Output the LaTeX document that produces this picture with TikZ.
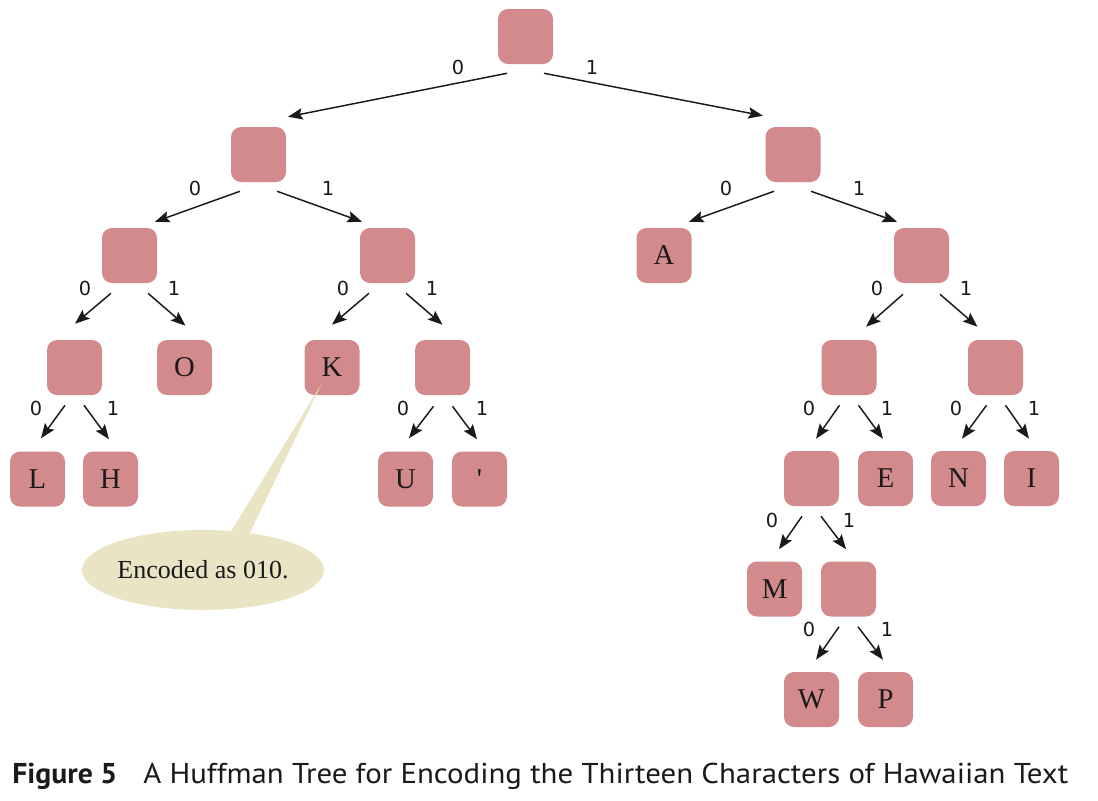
\documentclass[tikz,border=0pt]{standalone}
\usepackage{graphicx}
\usepackage{fontspec}
\setmainfont{Liberation Serif}
\newfontfamily\boxfont[Ligatures=TeXOff]{Liberation Serif}
\newfontfamily\lblfont{DejaVu Sans}
\newfontfamily\capfont{PT Sans}
\usetikzlibrary{arrows.meta,calc,shapes.geometric}
\definecolor{boxred}{HTML}{D38A8C}
\definecolor{calloutfill}{HTML}{E8E4C4}
\definecolor{ink}{HTML}{1A1A1A}
\begin{document}
\begin{tikzpicture}[x=0.75pt,y=-0.75pt,
  hbox/.style={fill=boxred, rounded corners=7.5pt, minimum width=41.25pt, minimum height=41.25pt,
    inner sep=0pt, font=\boxfont\fontsize{21.5}{21}\selectfont, text=ink, text height=14pt, text depth=0pt},
  lbl/.style={font=\lblfont\fontsize{14.5}{15}\selectfont, text=ink, inner sep=0pt},
  arr/.style={-{Stealth[length=11pt,width=8.5pt,inset=2pt]}, line width=1.1pt, draw=ink},
]
\useasboundingbox (0,0) rectangle (1098,800);

% nodes
\node[hbox] (root) at (525.5,36.5) {};
\node[hbox] (n0) at (258.5,154.5) {};
\node[hbox] (n1) at (793,154.5) {};
\node[hbox] (n00) at (129.5,255.5) {};
\node[hbox] (n01) at (387.5,255.5) {};
\node[hbox] (A) at (664,255.5) {A};
\node[hbox] (n11) at (921.5,255.5) {};
\node[hbox] (n000) at (74.5,367.5) {};
\node[hbox] (O) at (184.5,367.5) {O};
\node[hbox] (K) at (332,367.5) {K};
\node[hbox] (n011) at (442.5,367.5) {};
\node[hbox] (n110) at (849,367.5) {};
\node[hbox] (n111) at (995.5,367.5) {};
\node[hbox] (L) at (37.5,479) {L};
\node[hbox] (H) at (110.5,479) {H};
\node[hbox] (U) at (405.5,479) {U};
\node[hbox] (Q) at (479.5,479) {'};
\node[hbox] (n1100) at (811.5,478.5) {};
\node[hbox] (E) at (885.5,478.5) {E};
\node[hbox] (N) at (958.5,478.5) {N};
\node[hbox] (I) at (1031.5,478.5) {I};
\node[hbox] (M) at (774.5,589) {M};
\node[hbox] (n11001) at (848.5,589) {};
\node[hbox] (W) at (811.5,699.5) {W};
\node[hbox] (P) at (885.5,699.5) {P};

% edges
\draw[arr] ($(root.south)+(-18.5,9)$) -- ($(n0.north)+(29.5,-10)$) node[lbl] (t1) at (458,67) {0};
\draw[arr] ($(root.south)+(18.5,9)$) -- ($(n1.north)+(-30,-11)$) node[lbl] (t2) at (592,67) {1};

\draw[arr] ($(n0.south)+(-18.5,9)$) -- ($(n00.north)+(25.5,-6)$) node[lbl] (t3) at (195,188) {0};
\draw[arr] ($(n0.south)+(18.5,9)$) -- ($(n01.north)+(-25.5,-6)$) node[lbl] (t4) at (328,188) {1};
\draw[arr] ($(n1.south)+(-19,9)$) -- ($(A.north)+(25,-6)$) node[lbl] (t5) at (726,188) {0};
\draw[arr] ($(n1.south)+(18,9)$) -- ($(n11.north)+(-24.5,-6)$) node[lbl] (t6) at (859,188) {1};

\draw[arr] ($(n00.south)+(-18.5,10)$) -- ($(n000.north)+(0.5,-16)$) node[lbl] (t7) at (85,288) {0};
\draw[arr] ($(n00.south)+(18.5,10)$) -- ($(O.north)+(1,-14)$) node[lbl] (t8) at (174,288) {1};
\draw[arr] ($(n01.south)+(-18.5,10)$) -- ($(K.north)+(0,-15)$) node[lbl] (t9) at (343,288) {0};
\draw[arr] ($(n01.south)+(18.5,10)$) -- ($(n011.north)+(0,-15)$) node[lbl] (t10) at (432,288) {1};
\draw[arr] ($(n11.south)+(-18.5,11)$) -- ($(n110.north)+(17,-13)$) node[lbl] (t11) at (877,288) {0};
\draw[arr] ($(n11.south)+(18.5,11)$) -- ($(n111.north)+(-18,-13)$) node[lbl] (t12) at (966,288) {1};

\draw[arr] ($(n000.south)+(-9.5,10)$) -- ($(L.north)+(3.5,-13)$) node[lbl] (t13) at (36,408) {0};
\draw[arr] ($(n000.south)+(9.5,10)$) -- ($(H.north)+(-1.5,-12)$) node[lbl] (t14) at (113,408) {1};
\draw[arr] ($(n011.south)+(-9,11)$) -- ($(U.north)+(3.5,-13)$) node[lbl] (t15) at (403,408) {0};
\draw[arr] ($(n011.south)+(10,11)$) -- ($(Q.north)+(-2.5,-12)$) node[lbl] (t16) at (482,408) {1};
\draw[arr] ($(n110.south)+(-9.5,10)$) -- ($(n1100.north)+(4.5,-12)$) node[lbl] (t17) at (809,408) {0};
\draw[arr] ($(n110.south)+(9.5,10)$) -- ($(E.north)+(-2.5,-12)$) node[lbl] (t18) at (887,408) {1};
\draw[arr] ($(n111.south)+(-9,10)$) -- ($(N.north)+(3.5,-12)$) node[lbl] (t19) at (956,408) {0};
\draw[arr] ($(n111.south)+(10,10)$) -- ($(I.north)+(-2.5,-12)$) node[lbl] (t20) at (1034,408) {1};

\draw[arr] ($(n1100.south)+(-9.5,10)$) -- ($(M.north)+(4.5,-12)$) node[lbl] (t21) at (772,520) {0};
\draw[arr] ($(n1100.south)+(9.5,10)$) -- ($(n11001.north)+(-2.5,-12)$) node[lbl] (t22) at (849,520) {1};
\draw[arr] ($(n11001.south)+(-9.5,10)$) -- ($(W.north)+(4.5,-12)$) node[lbl] (t23) at (809,629) {0};
\draw[arr] ($(n11001.south)+(9.5,10)$) -- ($(P.north)+(-2.5,-12)$) node[lbl] (t24) at (887,629) {1};

% callout
\node[ellipse, fill=calloutfill, minimum width=177pt, minimum height=60pt, inner sep=0pt,
  font=\fontsize{19.5}{20}\selectfont, text=ink] (note) at (203,570) {Encoded as 010.};
\coordinate (ktip) at ($(K)+(-10.5,16.5)$);
\fill[calloutfill] (ktip) -- ($(note.north)+(26,5)$) -- ($(note.north)+(45,7)$) -- cycle;

% caption
\node[anchor=base west, inner sep=0pt, text=ink, font=\capfont\bfseries\fontsize{21.5}{22}\selectfont]
  (figno) at (12,783) {\resizebox{78.75pt}{\height}{Figure 5}};
\node[anchor=base west, inner sep=0pt, text=ink, font=\capfont\fontsize{21.5}{22}\selectfont]
  (figtitle) at (143,783) {\resizebox{693.75pt}{\height}{A Huffman Tree for Encoding the Thirteen Characters of Hawaiian Text}};
\end{tikzpicture}
\end{document}
